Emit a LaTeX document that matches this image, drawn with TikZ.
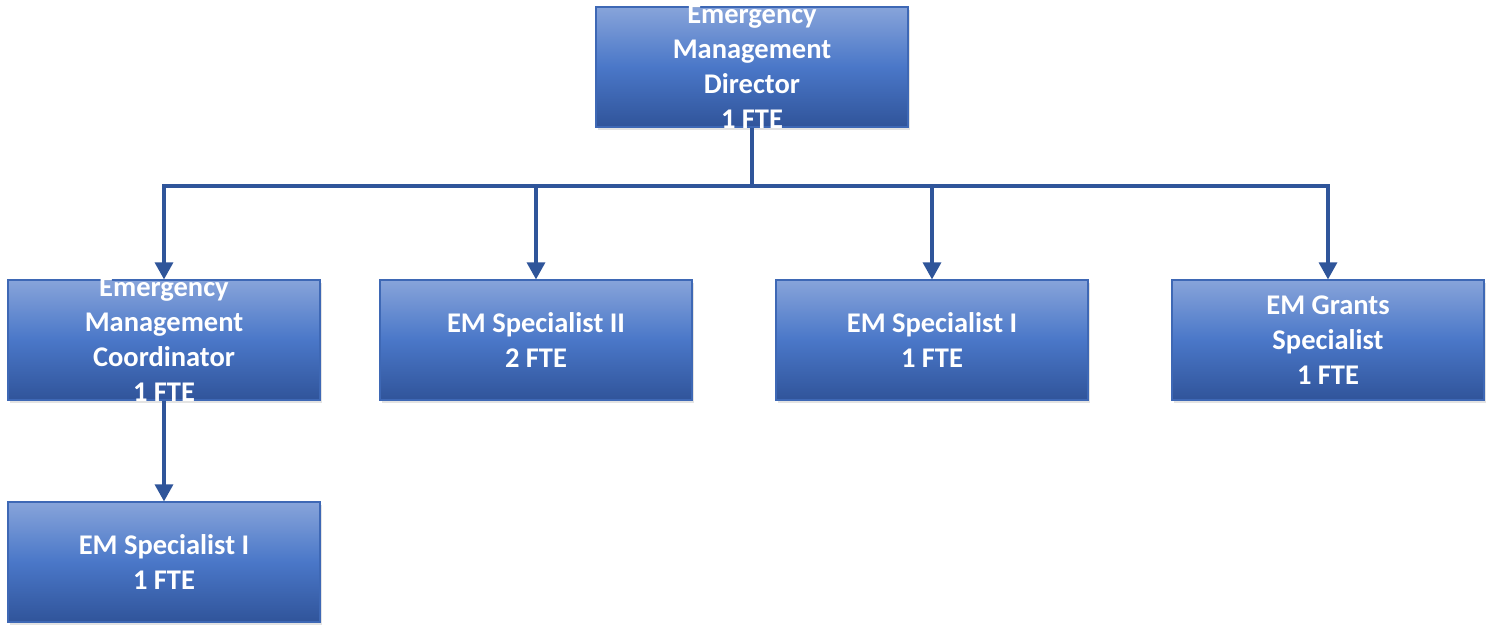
\documentclass[tikz,border=0pt]{standalone}
\usepackage{fontspec}
\setmainfont{Carlito}
\usetikzlibrary{arrows.meta,shadows}
\definecolor{boxtop}{HTML}{87A4DA}
\definecolor{boxmid}{HTML}{4A77C8}
\definecolor{boxbot}{HTML}{30549A}
\definecolor{boxline}{HTML}{3E68B5}
\definecolor{linkcol}{HTML}{2F559A}
\tikzset{
  orgbox/.style={draw=boxline, line width=1.2pt, rectangle,
    minimum width=312pt, minimum height=120pt, inner sep=0pt,
    top color=boxtop, bottom color=boxbot, middle color=boxmid,
    drop shadow={shadow xshift=2pt, shadow yshift=-3pt, opacity=0.18, fill=black!60}},
  orgtext/.style={text=white, font=\fontsize{28.5}{35}\selectfont\bfseries,
    align=center, inner sep=0pt},
  link/.style={draw=linkcol, line width=3.2pt,
    -{Triangle[width=18pt,length=17pt]}},
  trunk/.style={draw=linkcol, line width=3.2pt}
}
\begin{document}
\begin{tikzpicture}[x=1pt,y=-1pt]
\useasboundingbox (0,0) rectangle (1491,625);
% boxes
\node[orgbox] (dir) at (752,67) {};
\node[orgbox] (coord) at (164,340) {};
\node[orgbox] (spec2) at (536,340) {};
\node[orgbox] (spec1) at (932,340) {};
\node[orgbox] (grants) at (1328,340) {};
\node[orgbox] (spec1b) at (164,562) {};
% connectors
\coordinate (bus) at (752,186);
\draw[trunk] (dir.south) -- (bus);
\draw[link] (bus) -| (coord.north);
\draw[link] (bus) -| (spec2.north);
\draw[link] (bus) -| (spec1.north);
\draw[link] (bus) -| (grants.north);
\draw[link] (coord.south) -- (spec1b.north);
% labels
\node[orgtext] (dirt) at (dir.center) {Emergency\\Management\\Director\\1 FTE};
\node[orgtext] (coordt) at (coord.center) {Emergency\\Management\\Coordinator\\1 FTE};
\node[orgtext] (spec2t) at (spec2.center) {EM Specialist II\\2 FTE};
\node[orgtext] (spec1t) at (spec1.center) {EM Specialist I\\1 FTE};
\node[orgtext] (grantst) at (grants.center) {EM Grants\\Specialist\\1 FTE};
\node[orgtext] (spec1bt) at (spec1b.center) {EM Specialist I\\1 FTE};
\end{tikzpicture}
\end{document}
